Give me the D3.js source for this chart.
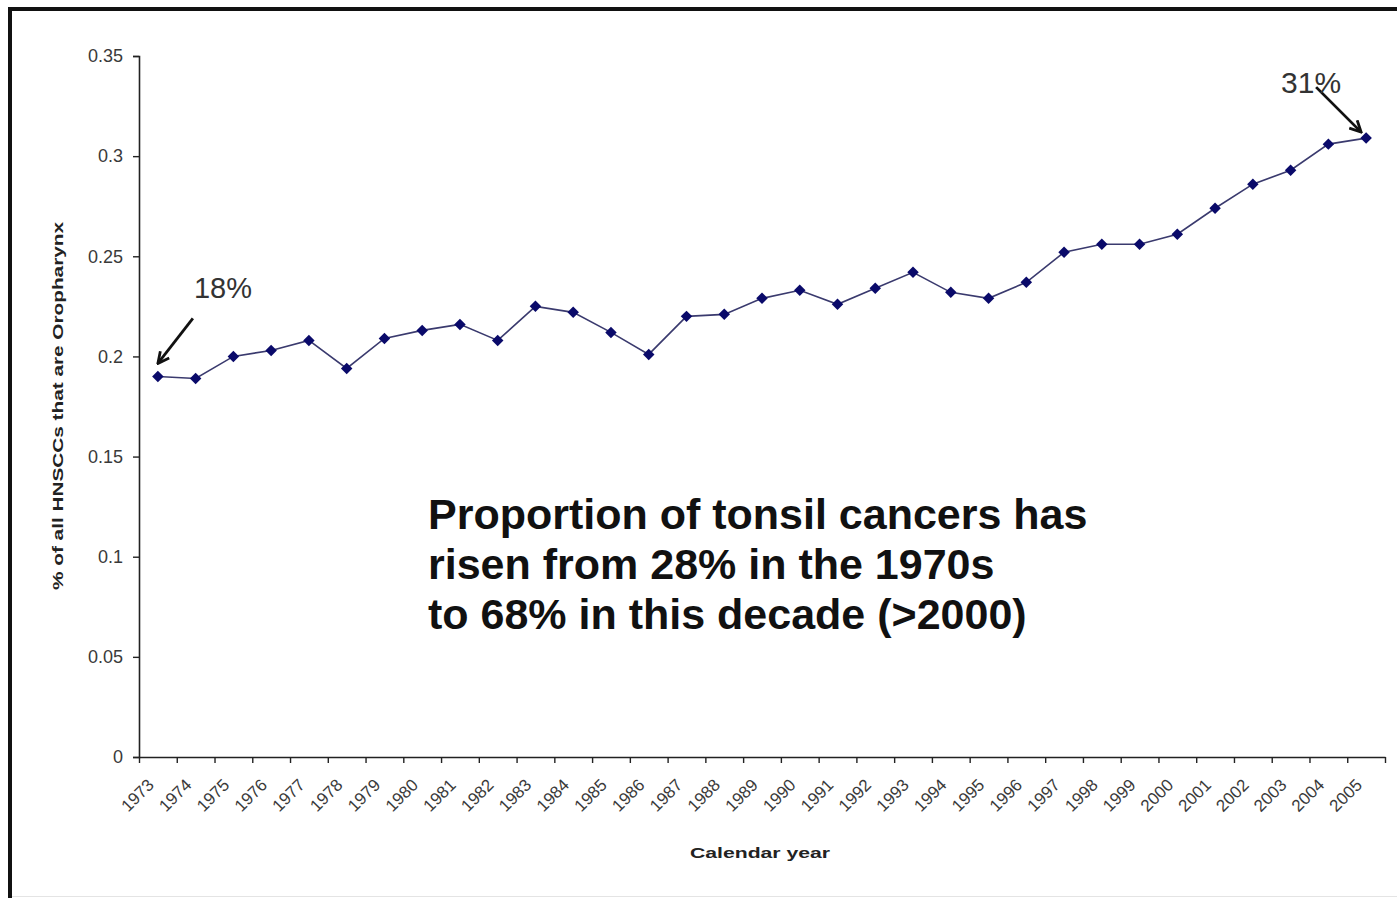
<!DOCTYPE html>
<html>
<head>
<meta charset="utf-8">
<script src="https://cdn.jsdelivr.net/npm/d3@7"></script>
<style>
  html, body { margin: 0; padding: 0; background: #fff; }
  svg { display: block; font-family: "Liberation Sans", Arial, sans-serif; }
</style>
</head>
<body>
<svg id="chart" width="1397" height="898"></svg>
<script>
// ---- data ----
const years = [1973,1974,1975,1976,1977,1978,1979,1980,1981,1982,1983,1984,1985,1986,1987,1988,1989,1990,1991,1992,1993,1994,1995,1996,1997,1998,1999,2000,2001,2002,2003,2004,2005];
const proportions = [0.190,0.189,0.200,0.203,0.208,0.194,0.209,0.213,0.216,0.208,0.225,0.222,0.212,0.201,0.220,0.221,0.229,0.233,0.226,0.234,0.242,0.232,0.229,0.237,0.252,0.256,0.256,0.261,0.274,0.286,0.293,0.306,0.309];
const yTicks = [0, 0.05, 0.1, 0.15, 0.2, 0.25, 0.3, 0.35];
const yTitle = "% of all HNSCCs that are Oropharynx";
const xTitle = "Calendar year";
const startLabel = "18%";
const endLabel = "31%";
const noteLines = ["Proportion of tonsil cancers has", "risen from 28% in the 1970s", "to 68% in this decade (>2000)"];

// ---- layout ----
const svg = d3.select("#chart");
const L = 139, R = 1385, T = 56, B = 757;

// frame
svg.append("rect").attr("x", 10).attr("y", 9).attr("width", 1400).attr("height", 900)
  .attr("fill", "none").attr("stroke", "#111").attr("stroke-width", 4);
svg.append("line").attr("x1", 12).attr("x2", 1397).attr("y1", 896.5).attr("y2", 896.5)
  .attr("stroke", "#e4e4e4").attr("stroke-width", 1);

const x = d3.scaleBand().domain(years).range([L, R]).padding(0);
const xc = d => x(d) + x.bandwidth() / 2;
const y = d3.scaleLinear().domain([0, 0.35]).range([B, T]);

// y axis
const yAxis = svg.append("g").attr("transform", `translate(${L},0)`)
  .call(d3.axisLeft(y).tickValues(yTicks).tickSize(6).tickPadding(10)
    .tickFormat(d => d3.format("")(+d.toFixed(2))));
yAxis.select(".domain").attr("stroke", "#222").attr("stroke-width", 1.6);
yAxis.selectAll(".tick line").attr("stroke", "#222").attr("stroke-width", 1.4);
yAxis.selectAll(".tick text").attr("font-size", 18).attr("fill", "#3a3a3a");

// x axis: boundary ticks
const idx = d3.scaleLinear().domain([0, years.length]).range([L, R]);
const xTickAxis = svg.append("g").attr("transform", `translate(0,${B})`)
  .call(d3.axisBottom(idx).tickValues(d3.range(years.length + 1)).tickSize(6).tickSizeOuter(0).tickFormat(""));
xTickAxis.select(".domain").attr("stroke", "#222").attr("stroke-width", 1.6);
xTickAxis.selectAll(".tick line").attr("stroke", "#222").attr("stroke-width", 1.4);

// x axis labels
const xLab = svg.append("g").attr("transform", `translate(0,${B})`)
  .call(d3.axisBottom(x).tickSize(0).tickPadding(0));
xLab.select(".domain").remove();
xLab.selectAll(".tick text")
  .attr("font-size", 17).attr("fill", "#3a3a3a")
  .attr("text-anchor", "end").attr("dy", 0)
  .attr("transform", "translate(-3,29) rotate(-45)");

// axis titles
svg.append("text").attr("x", 760).attr("y", 858).attr("text-anchor", "middle")
  .attr("font-size", 15).attr("font-weight", "bold").attr("fill", "#222")
  .attr("textLength", 140).attr("lengthAdjust", "spacingAndGlyphs").text(xTitle);
svg.append("text").attr("transform", "translate(63,406) rotate(-90)").attr("text-anchor", "middle")
  .attr("font-size", 15).attr("font-weight", "bold").attr("fill", "#222")
  .attr("textLength", 368).attr("lengthAdjust", "spacingAndGlyphs").text(yTitle);

// line + markers
const pts = years.map((yr, i) => ({ yr, v: proportions[i] }));
svg.append("path").datum(pts)
  .attr("fill", "none").attr("stroke", "#3a3a6e").attr("stroke-width", 1.6)
  .attr("d", d3.line().x(d => xc(d.yr)).y(d => y(d.v)));
svg.selectAll(".pt").data(pts).join("path").attr("class", "pt")
  .attr("d", d3.symbol(d3.symbolSquare, 66))
  .attr("transform", d => `translate(${xc(d.yr)},${y(d.v)}) rotate(45)`)
  .attr("fill", "#0a0a6a");

// arrows
const defs = svg.append("defs");
defs.append("marker").attr("id", "arr").attr("viewBox", "0 0 10 10")
  .attr("refX", 9).attr("refY", 5).attr("markerWidth", 5).attr("markerHeight", 5)
  .attr("orient", "auto")
  .append("path").attr("d", "M1,1 L9,5 L1,9").attr("fill", "none")
  .attr("stroke", "#111").attr("stroke-width", 2);

const p0 = pts[0], pN = pts[pts.length - 1];
const s0 = { x: xc(p0.yr), y: y(p0.v) - 13 };
svg.append("line").attr("x1", s0.x + 35).attr("y1", s0.y - 45).attr("x2", s0.x).attr("y2", s0.y)
  .attr("stroke", "#111").attr("stroke-width", 2.8).attr("marker-end", "url(#arr)");
svg.append("text").attr("x", s0.x + 36).attr("y", s0.y - 65).attr("font-size", 29).attr("fill", "#333")
  .text(startLabel);

const sN = { x: xc(pN.yr) - 5, y: y(pN.v) - 6 };
svg.append("line").attr("x1", sN.x - 45).attr("y1", sN.y - 45).attr("x2", sN.x).attr("y2", sN.y)
  .attr("stroke", "#111").attr("stroke-width", 2.8).attr("marker-end", "url(#arr)");
svg.append("text").attr("x", sN.x - 80).attr("y", sN.y - 39).attr("font-size", 30).attr("fill", "#333")
  .text(endLabel);

// note
svg.append("g").selectAll("text").data(noteLines).join("text")
  .attr("x", 428).attr("y", (d, i) => 529 + i * 50)
  .attr("font-size", 43).attr("font-weight", "bold").attr("fill", "#111")
  .text(d => d);
</script>
</body>
</html>
